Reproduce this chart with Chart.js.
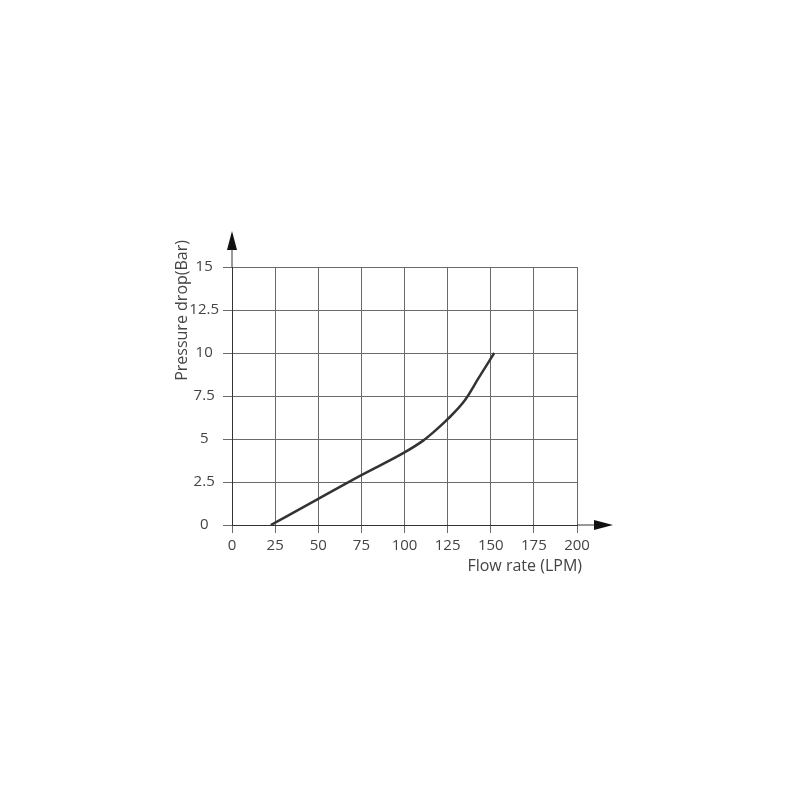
<!DOCTYPE html>
<html>
<head>
<meta charset="utf-8">
<script src="https://cdn.jsdelivr.net/npm/chart.js@4"></script>
<style>
  html, body { margin: 0; padding: 0; background: #fff; }
  #wrap { width: 800px; height: 800px; }
</style>
</head>
<body>
<div id="wrap"><canvas id="chart" width="800" height="800"></canvas></div>
<script>
const flowRate = [22.5, 50, 75, 100, 111, 118, 125, 135, 143, 152];
const pressureDrop = [0, 1.52, 2.9, 4.22, 4.92, 5.5, 6.15, 7.25, 8.55, 10];
const xTicks = [0, 25, 50, 75, 100, 125, 150, 175, 200];
const yTicks = [0, 2.5, 5, 7.5, 10, 12.5, 15];

const fontFamily = "'Open Sans', 'DejaVu Sans', sans-serif";
const textColor = '#444';
const gridColor = '#6a6a6a';

// axis arrows and the two axis titles
const decorations = {
  id: 'decorations',
  afterDraw(chart) {
    const ctx = chart.ctx;
    const area = chart.chartArea;
    ctx.save();
    ctx.strokeStyle = '#333';
    ctx.fillStyle = '#111';
    ctx.lineWidth = 1;
    // y axis extension + arrow
    ctx.beginPath();
    ctx.moveTo(area.left, area.top);
    ctx.lineTo(area.left, area.top - 18);
    ctx.stroke();
    ctx.beginPath();
    ctx.moveTo(area.left, area.top - 36);
    ctx.lineTo(area.left - 5, area.top - 17);
    ctx.lineTo(area.left + 5, area.top - 17);
    ctx.closePath();
    ctx.fill();
    // x axis extension + arrow
    ctx.beginPath();
    ctx.moveTo(area.right, area.bottom);
    ctx.lineTo(area.right + 18, area.bottom);
    ctx.stroke();
    ctx.beginPath();
    ctx.moveTo(area.right + 36, area.bottom);
    ctx.lineTo(area.right + 17, area.bottom - 5);
    ctx.lineTo(area.right + 17, area.bottom + 5);
    ctx.closePath();
    ctx.fill();

    ctx.fillStyle = textColor;
    ctx.font = '16px ' + fontFamily;
    ctx.textAlign = 'right';
    ctx.textBaseline = 'middle';
    ctx.fillText('Flow rate (LPM)', area.right + 5, area.bottom + 41);

    ctx.translate(area.left - 50, area.top - 27);
    ctx.rotate(-Math.PI / 2);
    ctx.textAlign = 'right';
    ctx.fillText('Pressure drop(Bar)', 0, 0);
    ctx.restore();
  }
};

new Chart(document.getElementById('chart').getContext('2d'), {
  type: 'line',
  data: {
    datasets: [{
      data: flowRate.map((x, i) => ({ x: x, y: pressureDrop[i] })),
      borderColor: '#333',
      borderWidth: 2.5,
      pointRadius: 0,
      cubicInterpolationMode: 'monotone',
      fill: false
    }]
  },
  options: {
    responsive: false,
    animation: false,
    layout: { padding: { left: 0, right: 223, top: 267, bottom: 215 } },
    plugins: { legend: { display: false }, tooltip: { enabled: false } },
    scales: {
      x: {
        type: 'linear',
        min: 0,
        max: 200,
        afterBuildTicks: s => { s.ticks = xTicks.map(v => ({ value: v })); },
        afterFit: s => { s.height = 60; },
        grid: { color: gridColor, lineWidth: 1, tickLength: 8, tickColor: gridColor },
        border: { color: '#333', width: 1 },
        ticks: { color: textColor, font: { family: fontFamily, size: 15 }, padding: 4, maxRotation: 0 }
      },
      y: {
        min: 0,
        max: 15,
        afterBuildTicks: s => { s.ticks = yTicks.map(v => ({ value: v })); },
        afterFit: s => { s.width = 232; },
        grid: { color: gridColor, lineWidth: 1, tickLength: 9, tickColor: gridColor },
        border: { color: '#333', width: 1 },
        ticks: { color: textColor, font: { family: fontFamily, size: 15 }, padding: 4, crossAlign: 'center' }
      }
    }
  },
  plugins: [decorations]
});
</script>
</body>
</html>
